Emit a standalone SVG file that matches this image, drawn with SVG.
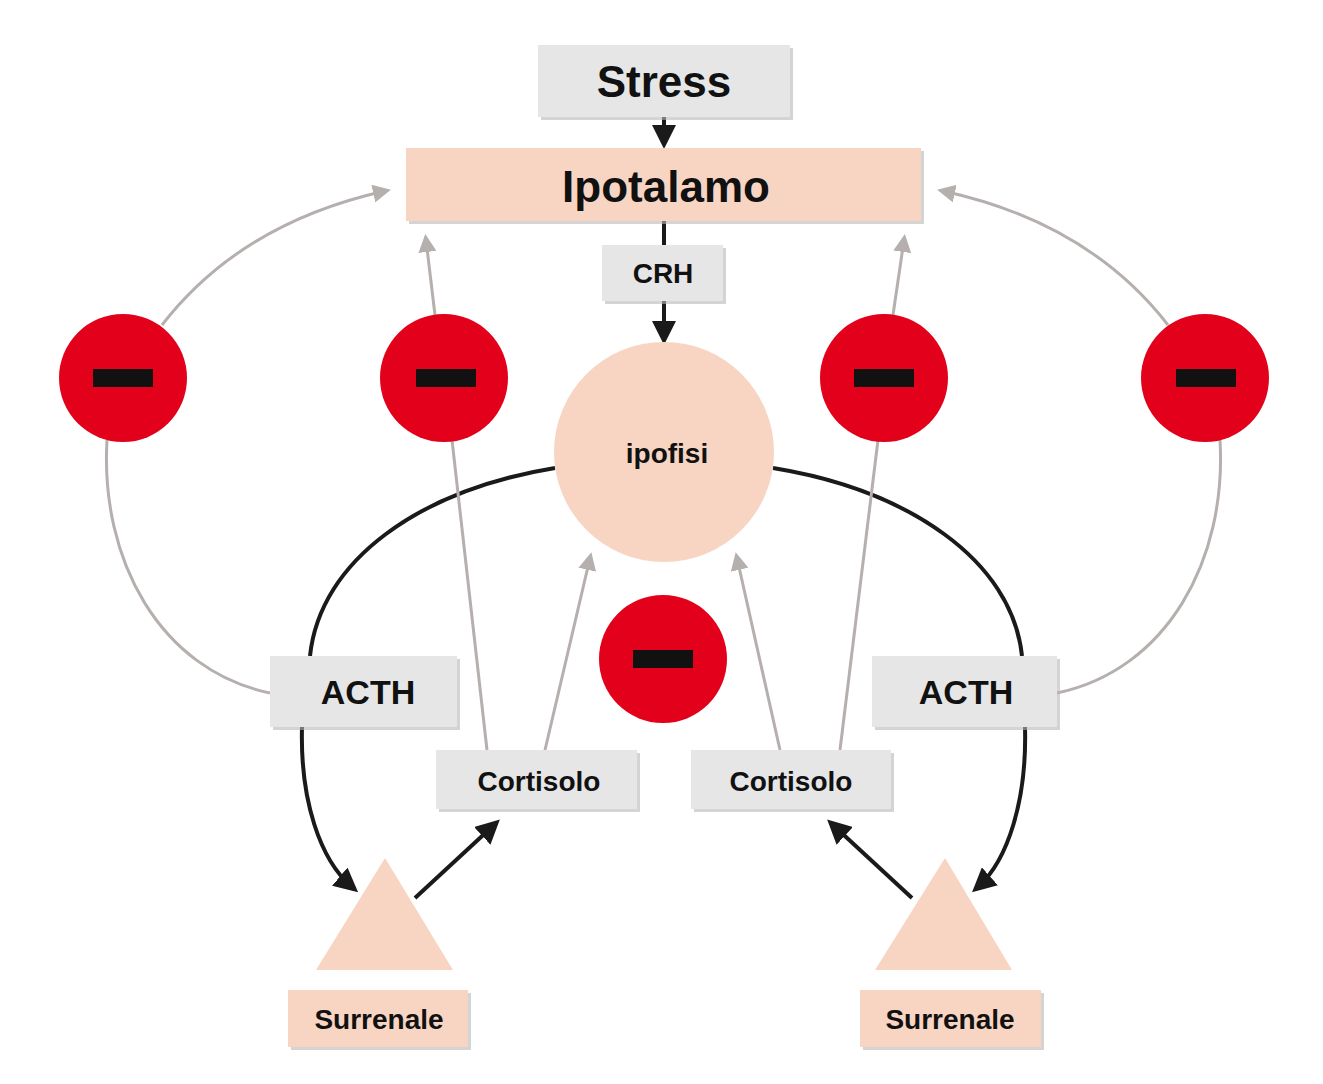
<svg xmlns="http://www.w3.org/2000/svg" width="1323" height="1084" viewBox="0 0 1323 1084">
<style>
.g{fill:#e6e6e7}.p{fill:#f8d5c2}.sh{fill:#b8b8b8;opacity:.6}
.t{font-family:"Liberation Sans",Arial,sans-serif;font-weight:bold;fill:#111;text-anchor:middle;dominant-baseline:central}
.k{fill:none;stroke:#1a1a1a;stroke-width:4}
.gr{fill:none;stroke:#b5afad;stroke-width:3}
.red{fill:#e2001a}
</style>
<defs>
<marker id="ak" markerWidth="6" markerHeight="6" refX="4" refY="3" orient="auto" markerUnits="strokeWidth"><path d="M0,0L6,3L0,6z" fill="#1a1a1a"/></marker>
<marker id="ag" markerWidth="6" markerHeight="6" refX="4" refY="3" orient="auto" markerUnits="strokeWidth"><path d="M0,0L6,3L0,6z" fill="#b5afad"/></marker>
</defs>
<g id="connectors">
<path class="k" d="M664,117V141" stroke-width="3" marker-end="url(#ak)"/>
<path class="k" d="M664,221V245" stroke-width="3"/>
<path class="k" d="M664,301V337" stroke-width="3" marker-end="url(#ak)"/>
<path class="k" d="M555,468C420,490 320,560 310,656"/>
<path class="k" d="M302,727C300,800 320,860 352,887" marker-end="url(#ak)"/>
<path class="k" d="M773,468C908,490 1012,560 1022,656"/>
<path class="k" d="M1025,727C1027,800 1008,860 978,887" marker-end="url(#ak)"/>
<path class="k" d="M415,898L494,825" marker-end="url(#ak)"/>
<path class="k" d="M912,898L833,825" marker-end="url(#ak)"/>
<path class="gr" d="M270,693C160,670 100,560 107,440"/>
<path class="gr" d="M162,325C220,250 300,210 385,191" marker-end="url(#ag)"/>
<path class="gr" d="M1057,693C1167,670 1227,560 1220,440"/>
<path class="gr" d="M1168,325C1110,250 1030,210 943,191" marker-end="url(#ag)"/>
<path class="gr" d="M487,750L452,440"/>
<path class="gr" d="M435,315L426,240" marker-end="url(#ag)"/>
<path class="gr" d="M840,750L878,440"/>
<path class="gr" d="M893,315L904,240" marker-end="url(#ag)"/>
<path class="gr" d="M545,750L590,558" marker-end="url(#ag)"/>
<path class="gr" d="M780,750L737,558" marker-end="url(#ag)"/>
</g>
<g id="stress"><rect class="sh" x="541" y="48" width="252" height="72"/><rect class="g" x="538" y="45" width="252" height="72"/><text class="t" x="664" y="81" font-size="44">Stress</text></g>
<g id="ipotalamo"><rect class="sh" x="409" y="151" width="515" height="73"/><rect class="p" x="406" y="148" width="515" height="73"/><text class="t" x="666" y="186" font-size="44">Ipotalamo</text></g>
<g id="crh"><rect class="sh" x="605" y="248" width="121" height="56"/><rect class="g" x="602" y="245" width="121" height="56"/><text class="t" x="663" y="273" font-size="28">CRH</text></g>
<g id="ipofisi"><circle class="p" cx="664" cy="452" r="110"/><text class="t" x="667" y="453" font-size="28">ipofisi</text></g>
<g id="m1"><circle class="red" cx="123" cy="378" r="64"/><rect x="93" y="369" width="60" height="18" fill="#111"/></g>
<g id="m2"><circle class="red" cx="444" cy="378" r="64"/><rect x="416" y="369" width="60" height="18" fill="#111"/></g>
<g id="m3"><circle class="red" cx="884" cy="378" r="64"/><rect x="854" y="369" width="60" height="18" fill="#111"/></g>
<g id="m4"><circle class="red" cx="1205" cy="378" r="64"/><rect x="1176" y="369" width="60" height="18" fill="#111"/></g>
<g id="m5"><circle class="red" cx="663" cy="659" r="64"/><rect x="633" y="650" width="60" height="18" fill="#111"/></g>
<g id="acth1"><rect class="sh" x="273" y="659" width="187" height="71"/><rect class="g" x="270" y="656" width="187" height="71"/><text class="t" x="368" y="692" font-size="34">ACTH</text></g>
<g id="acth2"><rect class="sh" x="875" y="659" width="185" height="71"/><rect class="g" x="872" y="656" width="185" height="71"/><text class="t" x="966" y="692" font-size="34">ACTH</text></g>
<g id="cort1"><rect class="sh" x="439" y="753" width="201" height="59"/><rect class="g" x="436" y="750" width="201" height="59"/><text class="t" x="539" y="781" font-size="28">Cortisolo</text></g>
<g id="cort2"><rect class="sh" x="694" y="753" width="200" height="59"/><rect class="g" x="691" y="750" width="200" height="59"/><text class="t" x="791" y="781" font-size="28">Cortisolo</text></g>
<g id="tri1"><polygon class="p" points="385,858 453,970 316,970"/></g>
<g id="tri2"><polygon class="p" points="945,858 1012,970 875,970"/></g>
<g id="sur1"><rect class="sh" x="291" y="993" width="180" height="57"/><rect class="p" x="288" y="990" width="180" height="57"/><text class="t" x="379" y="1019" font-size="28">Surrenale</text></g>
<g id="sur2"><rect class="sh" x="863" y="993" width="181" height="57"/><rect class="p" x="860" y="990" width="181" height="57"/><text class="t" x="950" y="1019" font-size="28">Surrenale</text></g>
</svg>
